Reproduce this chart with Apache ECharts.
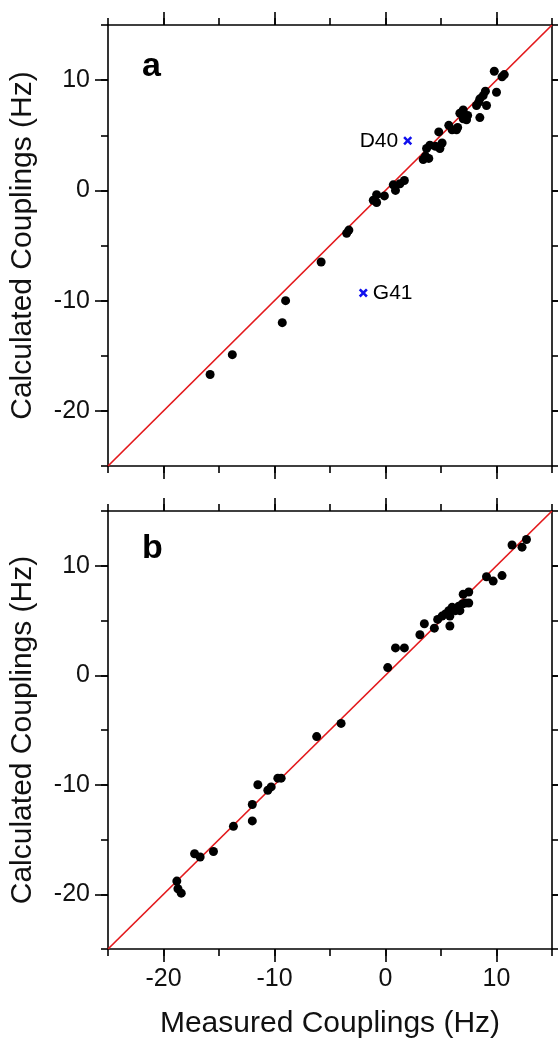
<html>
<head>
<meta charset="utf-8">
<title>Measured vs calculated couplings</title>
<script src="https://cdn.jsdelivr.net/npm/echarts@6/dist/echarts.min.js"></script>
<style>
  html, body { margin: 0; padding: 0; background: #fff; }
  #main { width: 558px; height: 1040px; }
</style>
</head>
<body>
<div id="main"></div>
<script>
// axis range and ticks
var axisMin = -25;
var axisMax = 15;
var tickStep = 5;
var majorTicks = [-20, -10, 0, 10];

// panel a: [measured, calculated]
var panelA = [
  [-15.8, -16.7], [-13.8, -14.9], [-9.3, -12.0], [-9.0, -10.0], [-5.8, -6.5],
  [-3.5, -3.9], [-3.3, -3.6], [-1.1, -0.9], [-0.8, -0.4], [-0.8, -1.1],
  [-0.1, -0.5], [0.7, 0.5], [0.9, 0.0], [1.3, 0.6], [1.7, 0.9],
  [3.4, 2.8], [3.6, 3.1], [3.9, 2.9], [3.7, 3.8], [4.0, 4.1],
  [4.5, 4.0], [4.9, 3.8], [5.1, 4.3], [4.8, 5.3], [5.7, 5.9],
  [6.0, 5.5], [6.4, 5.5], [6.5, 5.7], [6.7, 7.0], [7.0, 7.3],
  [7.0, 6.5], [7.3, 6.4], [7.4, 6.8], [8.2, 7.7], [8.5, 8.3],
  [8.8, 8.6], [9.0, 9.0], [9.1, 7.7], [8.5, 6.6], [8.4, 8.0],
  [10.0, 8.9], [9.8, 10.8], [10.5, 10.3], [10.7, 10.5]
];
// outliers in panel a
var outlierNames = ['D40', 'G41'];
var outlierValues = [[2.0, 4.5], [-2.0, -9.3]];

// panel b: [measured, calculated]
var panelB = [
  [-18.8, -18.8], [-18.7, -19.5], [-18.4, -19.9], [-17.2, -16.3], [-16.7, -16.6],
  [-15.5, -16.1], [-13.7, -13.8], [-12.0, -13.3], [-12.0, -11.8], [-11.5, -10.0],
  [-10.6, -10.5], [-10.3, -10.2], [-9.7, -9.4], [-9.4, -9.4], [-6.2, -5.6],
  [-4.0, -4.4], [0.2, 0.7], [0.9, 2.5], [1.7, 2.5], [3.1, 3.7],
  [3.5, 4.7], [4.4, 4.3], [4.7, 5.1], [5.1, 5.4], [5.4, 5.6],
  [5.7, 5.9], [6.0, 6.2], [5.8, 5.4], [6.3, 5.9], [6.6, 6.3],
  [6.7, 5.9], [6.9, 6.5], [7.2, 6.6], [7.5, 6.6], [7.0, 7.4],
  [7.5, 7.6], [5.8, 4.5], [9.1, 9.0], [9.7, 8.6], [10.5, 9.1],
  [11.4, 11.9], [12.3, 11.7], [12.7, 12.4]
];

var chart = echarts.init(document.getElementById('main'));
var fontFam = '"Liberation Sans", Arial, Helvetica, sans-serif';
var ink = '#000';
var lineW = 1.6;

var grids = [
  {left: 108, top: 25, width: 444, height: 441},
  {left: 108, top: 511, width: 444, height: 441}
];

function tickLabel(v) {
  return (v % 10 === 0 && v > axisMin && v < axisMax) ? String(v) : '';
}

var xAxes = [];
var yAxes = [];

function addAxes(list, gi, pos, isX, withLabels, name) {
  // main axis: line + minor ticks every 5 (+ labels)
  var main = {
    gridIndex: gi, type: 'value', position: pos,
    min: axisMin, max: axisMax, interval: tickStep,
    axisLine: {show: true, onZero: false, lineStyle: {color: ink, width: lineW}},
    axisTick: {show: true, inside: false, length: 7, lineStyle: {color: ink, width: lineW}},
    axisLabel: {show: withLabels, formatter: tickLabel, fontSize: 25, color: '#111',
      fontFamily: fontFam, margin: isX ? 18 : 18},
    splitLine: {show: false}
  };
  if (name) {
    main.name = name;
    main.nameLocation = 'middle';
    main.nameTextStyle = {fontSize: 30, color: '#111', fontFamily: fontFam};
    if (isX) {
      main.nameGap = 60;
    } else {
      main.nameGap = 70;
      main.nameRotate = 90;
    }
  }
  list.push(main);
  // second axis for the longer major ticks
  list.push({
    gridIndex: gi, type: 'value', position: pos,
    min: axisMin, max: axisMax, interval: tickStep,
    axisLine: {show: false, onZero: false},
    axisTick: {show: true, inside: false, length: 13, customValues: majorTicks,
      lineStyle: {color: ink, width: lineW}},
    axisLabel: {show: false},
    splitLine: {show: false}
  });
}

for (var g = 0; g < grids.length; g++) {
  var last = g === grids.length - 1;
  addAxes(xAxes, g, 'bottom', true, last, last ? 'Measured Couplings (Hz)' : null);
  addAxes(xAxes, g, 'top', true, false, null);
  addAxes(yAxes, g, 'left', false, true, 'Calculated Couplings (Hz)');
  addAxes(yAxes, g, 'right', false, false, null);
}

var diag = [[axisMin, axisMin], [axisMax, axisMax]];
var series = [];
var panels = [panelA, panelB];
for (var p = 0; p < panels.length; p++) {
  series.push({
    type: 'line', xAxisIndex: p * 4, yAxisIndex: p * 4,
    data: diag, symbol: 'none', silent: true,
    lineStyle: {color: '#e3191c', width: 1.7}, z: 2
  });
  series.push({
    type: 'scatter', xAxisIndex: p * 4, yAxisIndex: p * 4,
    data: panels[p], symbol: 'circle', symbolSize: 9,
    itemStyle: {color: '#000', opacity: 1}, z: 3
  });
}

var outliers = outlierNames.map(function (n, i) {
  return {
    name: n, value: outlierValues[i],
    label: {position: i === 0 ? 'left' : 'right'}
  };
});
series.push({
  type: 'scatter', xAxisIndex: 0, yAxisIndex: 0,
  data: outliers,
  symbol: 'path://M2,0 L5,3 L8,0 L10,2 L7,5 L10,8 L8,10 L5,7 L2,10 L0,8 L3,5 L0,2 Z',
  symbolSize: 9,
  itemStyle: {color: '#1010ee', opacity: 1},
  label: {show: true, formatter: '{b}', fontSize: 21, color: '#000', fontFamily: fontFam, distance: 5},
  z: 4
});

var option = {
  backgroundColor: '#fff',
  animation: false,
  grid: grids,
  xAxis: xAxes,
  yAxis: yAxes,
  series: series,
  graphic: [
    {type: 'text', left: 142, top: 50,
      style: {text: 'a', fontSize: 34, fontWeight: 'bold', fill: '#000', fontFamily: fontFam}},
    {type: 'text', left: 142, top: 532,
      style: {text: 'b', fontSize: 34, fontWeight: 'bold', fill: '#000', fontFamily: fontFam}}
  ]
};

chart.setOption(option);
</script>
</body>
</html>
